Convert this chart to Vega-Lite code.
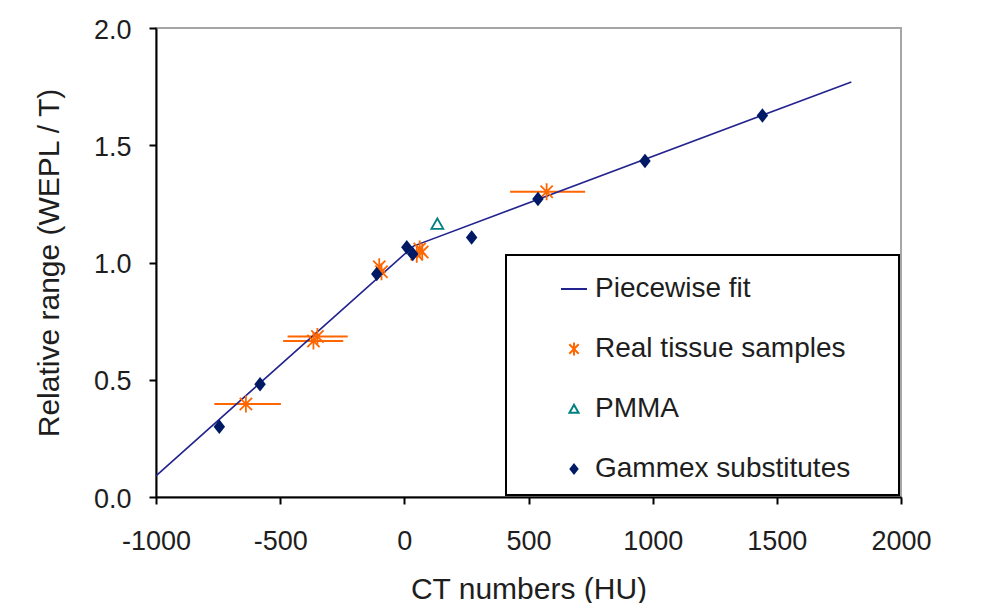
{
  "$schema": "https://vega.github.io/schema/vega-lite/v6.json",
  "width": 745,
  "height": 469,
  "autosize": {"type": "none"},
  "padding": {"left": 156, "top": 28, "right": 82, "bottom": 106},
  "background": "white",
  "config": {
    "font": "Liberation Sans",
    "view": {"stroke": "#a6a6a6", "strokeWidth": 2},
    "axis": {
      "grid": false,
      "domainColor": "black",
      "domainWidth": 2,
      "tickColor": "black",
      "tickWidth": 2,
      "tickSize": 7,
      "labelFont": "Liberation Sans",
      "labelFontSize": 27,
      "labelColor": "#1e1e1e",
      "labelFlush": false,
      "labelOverlap": false,
      "titleFont": "Liberation Sans",
      "titleFontSize": 30,
      "titleFontWeight": "normal",
      "titleColor": "#1e1e1e"
    },
    "axisX": {"labelPadding": 24, "titlePadding": 20},
    "axisY": {"labelPadding": 18, "titlePadding": 29, "labelOffset": 2},
    "legend": {
      "orient": "bottom-right",
      "offset": 2,
      "padding": 12,
      "strokeColor": "black",
      "strokeWidth": 2,
      "fillColor": "white",
      "titleOrient": "top",
      "titleFontSize": 4,
      "titlePadding": 4,
      "labelFont": "Liberation Sans",
      "labelFontSize": 28,
      "labelColor": "#1e1e1e",
      "labelLimit": 500,
      "labelOffset": 7,
      "symbolOffset": 42,
      "symbolSize": 676,
      "symbolStrokeWidth": 2,
      "rowPadding": 32
    }
  },
  "datasets": {
    "fit": [
      {"ct": -1000, "rr": 0.09},
      {"ct": 37, "rr": 1.07},
      {"ct": 1800, "rr": 1.77}
    ],
    "pts": [
      {"series": "Real tissue samples", "ct": -638, "rr": 0.397, "lo": -765, "hi": -497},
      {"series": "Real tissue samples", "ct": -350, "rr": 0.684, "lo": -470, "hi": -228},
      {"series": "Real tissue samples", "ct": -366, "rr": 0.665, "lo": -488, "hi": -246},
      {"series": "Real tissue samples", "ct": -101, "rr": 0.982},
      {"series": "Real tissue samples", "ct": -92, "rr": 0.961},
      {"series": "Real tissue samples", "ct": 50, "rr": 1.035},
      {"series": "Real tissue samples", "ct": 62, "rr": 1.058},
      {"series": "Real tissue samples", "ct": 72, "rr": 1.045},
      {"series": "Real tissue samples", "ct": 573, "rr": 1.302, "lo": 426, "hi": 728},
      {"series": "PMMA", "ct": 133, "rr": 1.164},
      {"series": "Gammex substitutes", "ct": -745, "rr": 0.300},
      {"series": "Gammex substitutes", "ct": -581, "rr": 0.481},
      {"series": "Gammex substitutes", "ct": -111, "rr": 0.951},
      {"series": "Gammex substitutes", "ct": 10, "rr": 1.065},
      {"series": "Gammex substitutes", "ct": 34, "rr": 1.036},
      {"series": "Gammex substitutes", "ct": 271, "rr": 1.107},
      {"series": "Gammex substitutes", "ct": 538, "rr": 1.271},
      {"series": "Gammex substitutes", "ct": 969, "rr": 1.433},
      {"series": "Gammex substitutes", "ct": 1442, "rr": 1.627}
    ]
  },
  "layer": [
    {
      "data": {"name": "pts"},
      "transform": [{"filter": "datum.lo != null"}],
      "mark": {"type": "rule", "color": "#ff6600", "strokeWidth": 2},
      "encoding": {
        "x": {"field": "lo", "type": "quantitative", "scale": {"domain": [-1000, 2000], "nice": false, "zero": false},
              "axis": {"title": "CT numbers (HU)", "values": [-1000, -500, 0, 500, 1000, 1500, 2000], "labelExpr": "'' + datum.value"}},
        "x2": {"field": "hi"},
        "y": {"field": "rr", "type": "quantitative", "scale": {"domain": [0, 2], "nice": false},
              "axis": {"title": "Relative range (WEPL / T)", "values": [0, 0.5, 1, 1.5, 2], "format": ".1f"}}
      }
    },
    {
      "data": {"name": "fit"},
      "mark": {"type": "line", "color": "#23238f", "strokeWidth": 1.6},
      "encoding": {
        "x": {"field": "ct", "type": "quantitative", "scale": {"domain": [-1000, 2000], "nice": false, "zero": false},
              "axis": {"title": "CT numbers (HU)", "values": [-1000, -500, 0, 500, 1000, 1500, 2000], "labelExpr": "'' + datum.value"}},
        "y": {"field": "rr", "type": "quantitative", "scale": {"domain": [0, 2], "nice": false},
              "axis": {"title": "Relative range (WEPL / T)", "values": [0, 0.5, 1, 1.5, 2], "format": ".1f"}}
      }
    },
    {
      "data": {"name": "pts"},
      "mark": {"type": "point", "size": 1156, "strokeWidth": 1.8, "opacity": 1},
      "encoding": {
        "x": {"field": "ct", "type": "quantitative", "scale": {"domain": [-1000, 2000], "nice": false, "zero": false},
              "axis": {"title": "CT numbers (HU)", "values": [-1000, -500, 0, 500, 1000, 1500, 2000], "labelExpr": "'' + datum.value"}},
        "y": {"field": "rr", "type": "quantitative", "scale": {"domain": [0, 2], "nice": false},
              "axis": {"title": "Relative range (WEPL / T)", "values": [0, 0.5, 1, 1.5, 2], "format": ".1f"}},
        "shape": {
          "field": "series", "type": "nominal",
          "scale": {
            "domain": ["Piecewise fit", "Real tissue samples", "PMMA", "Gammex substitutes"],
            "range": [
              "M-1,0L1,0",
              "M0,-0.5L0,0.5M-0.36,-0.36L0.36,0.36M-0.36,0.36L0.36,-0.36",
              "M0,-0.33L0.35,0.28L-0.35,0.28Z",
              "M0,-0.34L0.27,0L0,0.34L-0.27,0Z"
            ]
          },
          "legend": {"title": " ", "labelExpr": "datum.label + '\u00a0\u00a0\u00a0\u00a0\u2009\u200b'"}
        },
        "fill": {
          "field": "series", "type": "nominal",
          "scale": {
            "domain": ["Piecewise fit", "Real tissue samples", "PMMA", "Gammex substitutes"],
            "range": ["transparent", "transparent", "transparent", "#001a66"]
          },
          "legend": {"title": " ", "labelExpr": "datum.label + '\u00a0\u00a0\u00a0\u00a0\u2009\u200b'"}
        },
        "stroke": {
          "field": "series", "type": "nominal",
          "scale": {
            "domain": ["Piecewise fit", "Real tissue samples", "PMMA", "Gammex substitutes"],
            "range": ["#23238f", "#ff6600", "#008080", "#001a66"]
          },
          "legend": {"title": " ", "labelExpr": "datum.label + '\u00a0\u00a0\u00a0\u00a0\u2009\u200b'"}
        }
      }
    }
  ],
  "resolve": {"scale": {"x": "shared", "y": "shared"}}
}
